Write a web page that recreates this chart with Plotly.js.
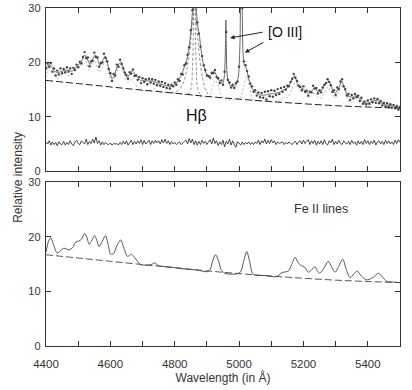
<!DOCTYPE html>
<html>
<head>
<meta charset="utf-8">
<script src="https://cdn.plot.ly/plotly-3.0.1.min.js"></script>
<style>
  html, body { margin: 0; padding: 0; background: #fff; }
  #chart { width: 412px; height: 390px; }
</style>
</head>
<body>
<div id="chart"></div>
<script>
// observed spectrum, one value every 5 A starting at 4400 A
const obsStart = 4400
const obsStep = 5
const obsFlux = [
	18.9,19.8,19.2,19.9,18.3,18.9,17.6,18.5,17.8,18.9,
	18.0,18.8,18.2,19.1,18.3,18.9,17.9,19.0,18.6,19.6,
	19.1,20.1,19.8,21.0,21.9,20.8,20.9,19.3,20.2,20.3,
	21.8,21.0,20.9,19.2,19.9,20.0,21.6,20.8,20.2,18.8,
	18.0,16.6,17.9,17.6,19.6,19.2,20.5,19.7,18.9,18.1,
	17.7,17.0,18.2,17.9,18.7,17.5,17.6,16.8,17.3,16.2,
	17.1,16.4,16.9,16.0,17.0,16.3,16.9,16.1,16.8,15.8,
	16.5,15.7,16.4,15.5,16.2,15.3,15.9,15.2,15.9,15.6,
	16.3,15.9,16.9,16.6,17.9,17.8,19.5,19.8,21.4,22.8,
	25.9,29.6,40,33,27.4,25.3,22.9,21.2,19.5,18.6,
	17.6,17.5,17.2,18.1,18.0,18.6,17.3,17.1,16.2,16.7,
	15.9,18.3,25.6,16.8,16.3,15.4,15.9,15.3,16.2,16.5,
	19.2,38,30,20.2,19.5,18.4,17.4,16.1,15.6,14.6,
	14.9,13.9,14.5,13.6,14.4,13.5,14.6,13.2,14.7,13.8,
	14.9,13.7,14.8,14.0,15.1,14.2,15.3,14.6,15.5,15.0,
	15.7,15.6,16.4,17.0,17.9,17.2,16.6,15.7,15.5,14.9,
	15.6,14.6,14.8,13.9,14.6,14.5,15.7,15.2,15.3,14.3,
	14.9,14.5,15.4,15.9,16.2,16.9,16.4,15.8,14.6,14.9,
	14.0,15.4,15.1,16.5,16.9,15.6,15.1,13.9,14.2,13.1,
	14.0,13.4,14.2,13.6,13.9,12.9,13.5,12.4,12.8,12.3,
	13.0,12.4,13.2,12.7,13.4,12.6,13.3,12.5,12.9,12.1,
	12.6,11.9,12.5,11.8,12.3,11.7,12.2,11.6,12.0,11.3,
	11.8
]

// residuals (shifted), same grid
const resFlux = [
	5.4,5.0,5.6,4.8,5.4,4.9,5.3,4.7,5.4,5.0,
	4.9,5.5,4.8,5.3,4.9,5.6,5.0,4.7,5.4,5.7,
	5.1,4.9,5.6,5.2,5.0,5.9,4.9,5.5,5.1,5.9,
	5.2,6.3,5.1,5.6,4.8,5.4,4.9,5.3,5.0,4.9,
	5.2,4.8,5.1,5.0,5.1,4.8,5.3,4.9,5.5,5.0,
	5.6,4.8,5.4,5.7,4.9,5.5,5.0,5.6,5.1,5.8,
	4.9,5.7,5.0,5.4,5.7,4.9,5.6,5.1,5.7,5.2,
	5.6,5.0,5.8,5.2,5.9,5.1,5.6,4.9,5.5,5.0,
	5.3,4.9,5.2,5.4,4.9,5.3,5.5,5.7,5.0,6.0,
	5.2,5.9,4.9,5.6,4.8,5.5,4.9,5.7,5.1,5.5,
	4.9,5.4,5.8,5.0,6.1,5.1,5.6,4.7,5.4,4.9,
	5.7,4.5,5.5,5.0,5.9,4.8,5.6,4.9,4.4,5.4,
	5.2,4.8,5.4,4.9,5.3,5.0,5.4,4.9,5.3,4.9,
	5.4,5.1,5.7,4.9,5.6,5.2,5.9,5.0,5.7,5.1,
	5.8,5.2,5.6,4.9,5.4,5.1,5.2,5.4,4.9,5.3,
	5.0,5.4,5.1,4.9,5.3,5.5,4.9,5.4,5.6,5.0,
	5.7,5.1,5.5,5.8,4.9,5.6,5.1,5.7,4.8,5.5,
	5.0,5.6,4.9,5.8,5.1,4.8,5.6,5.2,5.9,4.9,
	5.5,5.0,5.7,5.1,4.9,5.6,5.2,5.0,5.5,4.9,
	5.7,5.1,5.4,4.8,5.6,5.0,5.5,4.9,5.8,5.1,
	5.6,4.9,5.5,5.1,5.7,4.8,5.4,5.6,5.0,5.5,
	4.9,5.7,5.1,5.6,5.0,5.4,4.9,5.7,5.1,5.8,
	5.3
]

// total fit
const fitWave = [4400,4405,4410,4415,4425,4435,4450,4465,4480,4490,
	4500,4510,4520,4530,4537,4545,4553,4560,4568,4576,
	4584,4593,4605,4612,4622,4633,4642,4652,4660,4668,
	4678,4694,4710,4725,4736,4750,4765,4775,4788,4800,
	4810,4820,4830,4838,4845,4850,4854,4857,4861,4865,
	4868,4872,4877,4882,4888,4896,4905,4912,4922,4930,
	4940,4950,4955,4958,4959,4960,4963,4970,4980,4990,
	4998,5003,5006,5009,5012,5016,5022,5030,5040,5050,
	5065,5080,5096,5110,5125,5137,5150,5160,5172,5180,
	5189,5200,5215,5225,5236,5245,5255,5266,5279,5290,
	5298,5310,5319,5330,5339,5352,5365,5380,5391,5405,
	5420,5430,5440,5455,5469,5485,5500]
const fitFlux = [18.8,19.4,19.6,19.3,18.5,18.1,18.4,18.6,18.4,18.9,
	19.5,20.2,21.4,20.4,19.6,20.6,21.4,20.6,19.4,20.3,
	21.2,19.4,17.0,17.6,19.3,20.1,18.6,17.2,17.8,18.4,
	17.7,16.7,16.6,16.6,16.5,16.1,15.9,15.7,15.6,15.9,
	16.6,17.6,19.2,20.6,23.0,25.5,28.5,32,50,33,
	29,26.5,24.8,22.2,20.0,18.2,17.3,17.6,18.4,17.6,
	16.4,16.2,18,24,27.8,24,17.5,15.9,15.6,15.8,
	17.5,24,50,34,22,19.6,19.0,17.0,15.3,14.5,
	14.0,14.0,14.2,14.3,14.5,14.9,15.3,16.3,17.6,16.3,
	15.4,15.1,14.3,14.7,15.4,14.6,14.8,15.8,16.6,15.0,
	14.3,15.3,16.6,14.8,13.8,13.6,13.9,13.1,12.5,12.6,
	13.0,13.0,12.6,12.2,12.1,11.9,11.6]

// H-beta components (on top of continuum)
const hbBroadWave = [4790,4810,4825,4835,4845,4852,4857,4861,4865,4870,4877,4887,4897,4910]
const hbBroadFlux = [14.4,14.8,16.0,18.0,21.5,25.5,29,33,29,25.5,21.0,17.0,14.8,13.7]
const hbNarrowWave = [4840,4850,4855,4858,4861,4864,4867,4872,4882]
const hbNarrowFlux = [14.1,15.0,19,26,45,26,19,15,13.9]

// power-law continuum
const contWave = [4400,4500,4600,4700,4800,4900,5000,5100,5200,5300,5400,5500]
const contFlux = [16.7,16.1,15.5,14.9,14.35,13.75,13.25,12.8,12.4,12.05,11.8,11.6]

// Fe II template + continuum
const feWave = [4400,4408,4415,4422,4435,4446,4456,4471,4483,4492,
	4502,4511,4520,4527,4534,4542,4551,4558,4565,4575,
	4585,4593,4601,4610,4620,4632,4642,4653,4660,4666,
	4675,4694,4710,4720,4730,4739,4748,4756,4790,4829,
	4870,4901,4910,4918,4927,4936,4944,4956,4992,5005,
	5014,5024,5033,5044,5080,5117,5130,5137,5153,5163,
	5174,5184,5194,5204,5215,5225,5236,5245,5251,5264,
	5277,5288,5298,5310,5322,5333,5345,5357,5367,5380,
	5396,5415,5433,5446,5459,5480,5500]
const feFlux = [17.2,19.2,19.8,18.8,17.0,17.5,17.9,17.6,18.0,19.0,
	19.2,19.6,20.6,19.9,18.6,19.3,20.2,19.3,18.2,19.2,
	20.2,18.6,16.8,16.9,18.3,19.4,17.9,16.4,16.6,16.8,
	16.2,14.9,14.8,14.8,15.0,15.2,14.7,14.6,14.4,14.1,
	13.9,13.6,14.0,15.6,16.7,15.6,14.0,13.3,13.2,13.6,
	15.5,17.3,15.4,13.1,12.9,12.7,13.3,13.5,13.7,14.9,
	16.2,15.2,14.7,14.4,13.5,13.9,14.5,13.6,13.3,14.3,
	15.5,14.4,13.5,14.6,15.9,14.0,12.5,13.2,13.7,12.8,
	12.1,12.5,13.3,12.6,11.8,11.7,11.6]

const ink = '#333'
const font = {family: 'Liberation Sans, Arial, sans-serif', size: 11, color: ink}

let traces = [
	{
		x: hbBroadWave, y: hbBroadFlux, xaxis: 'x2', yaxis: 'y',
		mode: 'lines', line: {color: '#777', width: 0.8, dash: '3px,2px', shape: 'spline'},
		type: 'scatter'
	}, {
		x: hbNarrowWave, y: hbNarrowFlux, xaxis: 'x2', yaxis: 'y',
		mode: 'lines', line: {color: '#777', width: 0.8, dash: '3px,2px', shape: 'spline'},
		type: 'scatter'
	}, {
		x: feWave, y: feFlux, xaxis: 'x2', yaxis: 'y',
		mode: 'lines', line: {color: '#999', width: 0.7, dash: '2px,2px', shape: 'spline'},
		type: 'scatter'
	}, {
		x: fitWave, y: fitFlux, xaxis: 'x2', yaxis: 'y',
		mode: 'lines', line: {color: '#666', width: 1, shape: 'spline', smoothing: 0.5},
		type: 'scatter'
	}, {
		y: obsFlux, x0: obsStart, dx: obsStep, xaxis: 'x2', yaxis: 'y',
		mode: 'markers', marker: {color: '#444', size: 2.4},
		type: 'scatter'
	}, {
		x: contWave, y: contFlux, xaxis: 'x2', yaxis: 'y',
		mode: 'lines', line: {color: '#222', width: 1, dash: '7px,3px', shape: 'spline'},
		type: 'scatter'
	}, {
		y: resFlux, x0: obsStart, dx: obsStep, xaxis: 'x2', yaxis: 'y',
		mode: 'lines', line: {color: '#333', width: 0.9},
		type: 'scatter'
	}, {
		x: feWave, y: feFlux, xaxis: 'x', yaxis: 'y2',
		mode: 'lines', line: {color: '#555', width: 1, shape: 'spline', smoothing: 0.8},
		type: 'scatter'
	}, {
		x: contWave, y: contFlux, xaxis: 'x', yaxis: 'y2',
		mode: 'lines', line: {color: '#444', width: 0.9, dash: '7px,3px', shape: 'spline'},
		type: 'scatter'
	}
]

const xCommon = {
	range: [4400, 5500], tick0: 4400, dtick: 200,
	ticks: 'inside', ticklen: 5, tickcolor: ink, tickwidth: 1,
	minor: {dtick: 100, tick0: 4400, ticks: 'inside', ticklen: 5, tickcolor: ink},
	showline: true, linecolor: ink, linewidth: 1.2, mirror: 'ticks',
	showgrid: false, zeroline: false
}
const yCommon = {
	range: [0, 30], dtick: 10,
	ticks: 'inside', ticklen: 5, tickcolor: ink,
	showline: true, linecolor: ink, linewidth: 1.2, mirror: 'ticks',
	showgrid: false, zeroline: false,
	ticklabelstandoff: 2
}

let layout = {
	width: 412, height: 390,
	margin: {l: 46, r: 12, t: 8, b: 44},
	paper_bgcolor: '#fff', plot_bgcolor: '#fff',
	font: font,
	showlegend: false,
	xaxis: Object.assign({}, xCommon, {
		anchor: 'y2',
		ticklabelstandoff: 7,
		tickfont: {size: 11.5},
		title: {text: 'Wavelength (in Å)', font: {size: 12, color: ink}, standoff: 2}
	}),
	xaxis2: Object.assign({}, xCommon, {anchor: 'y', matches: 'x', showticklabels: false}),
	yaxis: Object.assign({}, yCommon, {domain: [0.517, 1], anchor: 'x2'}),
	yaxis2: Object.assign({}, yCommon, {domain: [0, 0.485], anchor: 'x'}),
	annotations: [
		{
			text: 'Relative intensity', textangle: -90, showarrow: false,
			xref: 'paper', yref: 'paper', x: -0.105, y: 0.5,
			font: {size: 12, color: ink}
		}, {
			text: 'Hβ', showarrow: false, xref: 'x2', yref: 'y', x: 4869, y: 10.2,
			font: {size: 16, color: '#111'}
		}, {
			text: '[O III]', showarrow: false, xref: 'x2', yref: 'y', x: 5143, y: 25.5,
			font: {size: 14, color: '#111'}
		}, {
			text: '', xref: 'x2', yref: 'y', x: 4972, y: 24.5,
			showarrow: true, ax: 34, ay: -6, arrowhead: 2, arrowsize: 0.9, arrowwidth: 1, arrowcolor: '#222'
		}, {
			text: '', xref: 'x2', yref: 'y', x: 5018, y: 21.8,
			showarrow: true, ax: 20, ay: -11, arrowhead: 2, arrowsize: 0.9, arrowwidth: 1, arrowcolor: '#222'
		}, {
			text: 'Fe II lines', showarrow: false, xref: 'x', yref: 'y2', x: 5255, y: 25.1,
			font: {size: 12.5, color: ink}
		}
	]
}

Plotly.newPlot('chart', traces, layout, {staticPlot: true})
</script>
</body>
</html>
